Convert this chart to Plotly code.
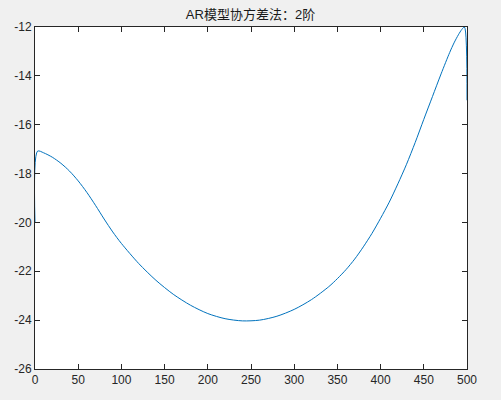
import plotly.graph_objects as go

title_text = "AR模型协方差法：2阶"
x_vals = [0, 3, 10, 20, 30, 40, 50, 60, 70, 80, 90, 100, 120, 140, 160, 180, 200,
          220, 240, 260, 280, 300, 320, 340, 350, 360, 370, 380, 390, 400, 410,
          420, 430, 440, 450, 460, 470, 480, 485, 490, 494, 497, 500]
y_vals = [-20.0, -17.08, -17.15, -17.33, -17.58, -17.9, -18.3, -18.77, -19.3,
          -19.86, -20.39, -20.86, -21.68, -22.37, -22.94, -23.39, -23.73, -23.94,
          -24.03, -24.0, -23.84, -23.56, -23.16, -22.63, -22.3, -21.93, -21.5,
          -21.0, -20.45, -19.83, -19.17, -18.42, -17.62, -16.73, -15.78, -14.85,
          -13.92, -13.04, -12.65, -12.32, -12.1, -12.0, -15.0]
x_ticks = [0, 50, 100, 150, 200, 250, 300, 350, 400, 450, 500]
y_ticks = [-26, -24, -22, -20, -18, -16, -14, -12]

fig = go.Figure()
fig.add_trace(go.Scatter(x=x_vals, y=y_vals, mode="lines",
                         line=dict(color="#0072BD", width=1, shape="spline", smoothing=0.8),
                         hoverinfo="skip", showlegend=False))

axis_common = dict(showgrid=False, zeroline=False, showline=True, linecolor="#262626",
                   linewidth=1, mirror="ticks", ticks="inside", ticklen=5, tickwidth=1,
                   tickcolor="#262626", automargin=False,
                   tickfont=dict(family="Liberation Sans, Arial, sans-serif", size=12,
                                 color="#262626"))
fig.update_xaxes(range=[0, 500], tickvals=x_ticks, ticktext=[str(v) for v in x_ticks],
                 **axis_common)
fig.update_yaxes(range=[-26, -12], tickvals=y_ticks, ticktext=[str(v) for v in y_ticks],
                 **axis_common)

fig.update_layout(
    width=501, height=400,
    margin=dict(l=35, r=34, t=27, b=31, pad=0),
    paper_bgcolor="#f0f0f0", plot_bgcolor="white",
    title=dict(text=title_text, x=0.5, xanchor="center", y=1 - 14 / 400, yanchor="middle",
               font=dict(family="Liberation Sans, Noto Sans CJK SC, sans-serif", size=13,
                         color="#1a1a1a")),
)
fig.write_html("out.html", config={"displayModeBar": False},
               post_script="document.body.style.margin='0';document.body.style.background='#f0f0f0';")
